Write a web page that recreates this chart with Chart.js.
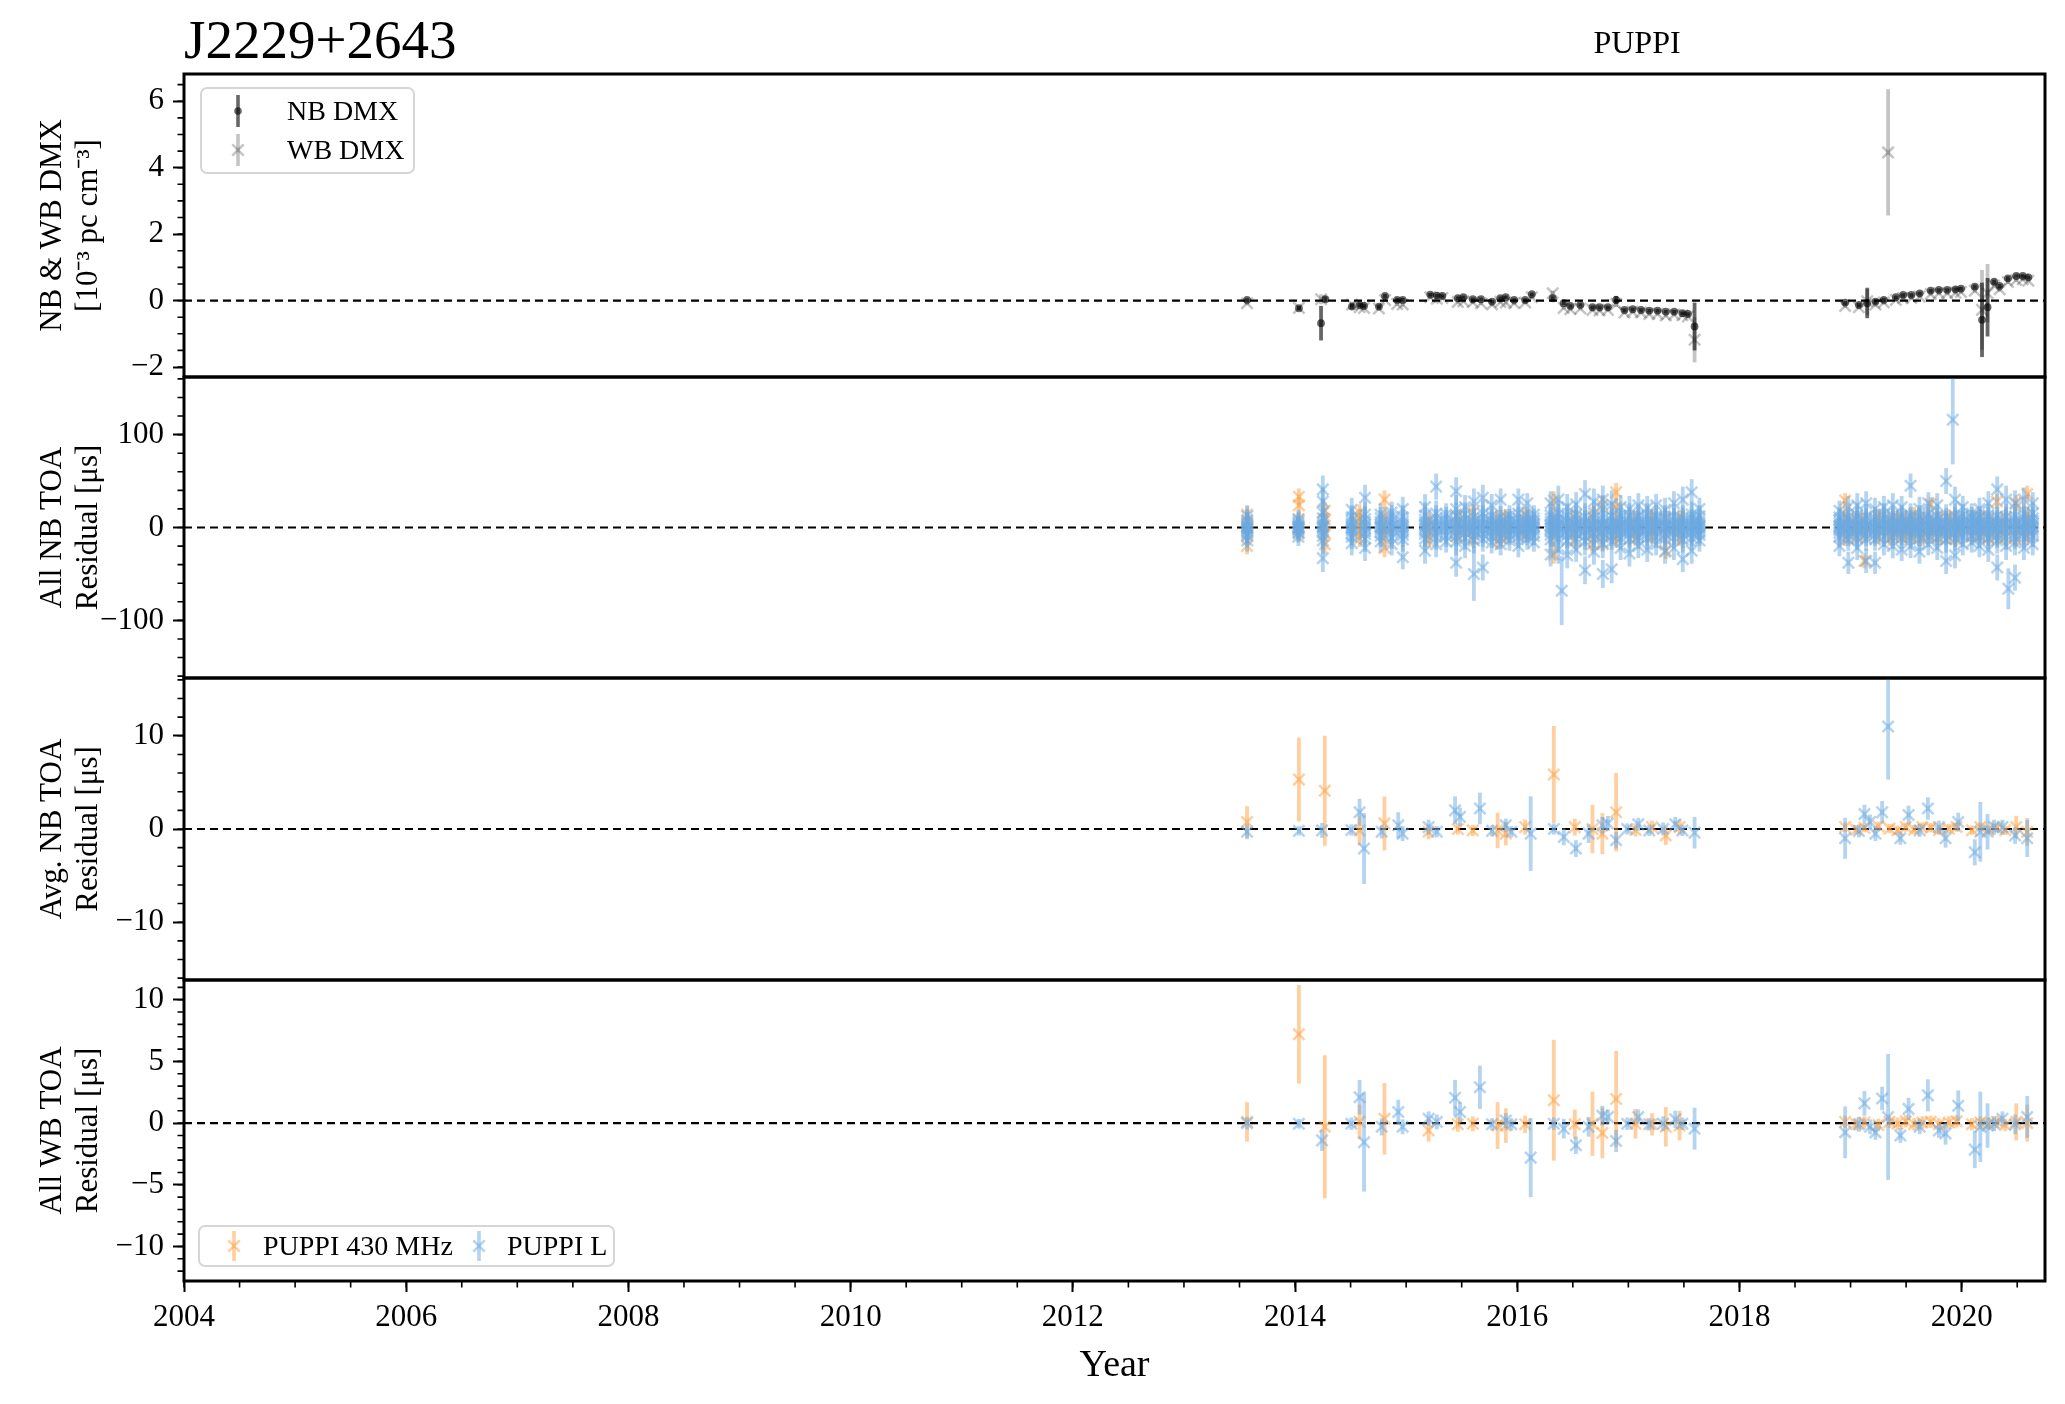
<!DOCTYPE html>
<html>
<head>
<meta charset="utf-8">
<script src="https://cdn.jsdelivr.net/npm/chart.js@4/dist/chart.umd.min.js"></script>
<style>
body{margin:0;background:#fff;width:2065px;height:1404px;position:relative;overflow:hidden;font-family:'Liberation Serif','Times New Roman',serif;color:#000;}
canvas{position:absolute;left:0;}
.lbl{position:absolute;line-height:1;white-space:nowrap;z-index:5;}
.leg{position:absolute;border:2px solid #d6d6d6;border-radius:7px;background:rgba(255,255,255,0.8);box-sizing:border-box;z-index:4;}
.glyph{position:absolute;z-index:5;}
</style>
</head>
<body>
<div class="lbl" style="left:184px;top:12px;font-size:55px">J2229+2643</div>
<div class="lbl" style="left:1637px;top:26px;font-size:32px;transform:translateX(-50%)">PUPPI</div>

<canvas id="dmx" width="2065" height="383" style="top:34px"></canvas>
<canvas id="nbAll" width="2065" height="381" style="top:337px"></canvas>
<canvas id="nbAvg" width="2065" height="382" style="top:638px"></canvas>
<canvas id="wbAll" width="2065" height="464" style="top:940px"></canvas>

<!-- legend, top panel -->
<div class="leg" style="left:200px;top:87px;width:215px;height:87px"></div>
<svg class="glyph" width="16" height="34" style="left:230px;top:94px"><line x1="8" y1="1" x2="8" y2="33" stroke="rgba(0,0,0,0.6)" stroke-width="3.6"/><circle cx="8" cy="17" r="3.8" fill="rgba(0,0,0,0.6)"/></svg>
<div class="lbl" style="left:287px;top:97px;font-size:28px">NB DMX</div>
<svg class="glyph" width="16" height="34" style="left:230px;top:133px"><line x1="8" y1="1" x2="8" y2="33" stroke="rgba(0,0,0,0.23)" stroke-width="3.6"/><path d="M2.3 11.3L13.7 22.7M13.7 11.3L2.3 22.7" stroke="rgba(0,0,0,0.23)" stroke-width="2.5" fill="none"/></svg>
<div class="lbl" style="left:287px;top:136px;font-size:28px">WB DMX</div>

<!-- legend, bottom panel -->
<div class="leg" style="left:198px;top:1225px;width:417px;height:42px"></div>
<svg class="glyph" width="16" height="34" style="left:226px;top:1229px"><line x1="8" y1="2" x2="8" y2="32" stroke="rgba(255,160,64,0.5)" stroke-width="3.6"/><path d="M2.3 11.3L13.7 22.7M13.7 11.3L2.3 22.7" stroke="rgba(255,160,64,0.5)" stroke-width="2.5" fill="none"/></svg>
<div class="lbl" style="left:263px;top:1232px;font-size:28px">PUPPI 430 MHz</div>
<svg class="glyph" width="16" height="34" style="left:471px;top:1229px"><line x1="8" y1="2" x2="8" y2="32" stroke="rgba(107,169,226,0.5)" stroke-width="3.6"/><path d="M2.3 11.3L13.7 22.7M13.7 11.3L2.3 22.7" stroke="rgba(107,169,226,0.5)" stroke-width="2.5" fill="none"/></svg>
<div class="lbl" style="left:507px;top:1232px;font-size:28px">PUPPI L</div>

<script>
// ---------- axes ----------
const xMin = 2004, xMax = 2020.75;
const yearTicks = [2004, 2006, 2008, 2010, 2012, 2014, 2016, 2018, 2020];

// ---------- panel 1 : DMX [1e-3 pc cm^-3] ----------
const nbDmxT = [2013.568, 2014.035, 2014.234, 2014.273, 2014.512, 2014.581, 2014.621, 2014.755, 2014.81, 2014.919, 2014.969,
  2015.217, 2015.276, 2015.326, 2015.465, 2015.515, 2015.6, 2015.674, 2015.773, 2015.848, 2015.897, 2015.972, 2016.071, 2016.131,
  2016.319, 2016.418, 2016.478, 2016.568, 2016.677, 2016.741, 2016.816, 2016.89, 2016.965, 2017.039, 2017.114, 2017.188, 2017.263,
  2017.337, 2017.412, 2017.486, 2017.536, 2017.596,
  2018.951, 2019.075, 2019.15, 2019.224, 2019.299, 2019.408, 2019.473, 2019.547, 2019.622, 2019.721, 2019.795, 2019.87, 2019.944,
  2019.994, 2020.118, 2020.183, 2020.233, 2020.292, 2020.342, 2020.416, 2020.491, 2020.55, 2020.6];
const nbDmxV = [0.02, -0.23, -0.68, 0.04, -0.18, -0.13, -0.16, -0.18, 0.14, 0.02, 0.02,
  0.18, 0.15, 0.14, 0.07, 0.1, 0.04, 0.04, -0.03, 0.07, 0.1, 0.02, 0.02, 0.19,
  0.07, -0.08, -0.16, -0.13, -0.2, -0.2, -0.2, 0.02, -0.28, -0.26, -0.28, -0.3, -0.3,
  -0.33, -0.33, -0.38, -0.4, -0.78,
  -0.06, -0.13, -0.08, -0.03, 0.02, 0.1, 0.17, 0.17, 0.22, 0.3, 0.32, 0.32, 0.34,
  0.36, 0.42, -0.58, -0.2, 0.57, 0.44, 0.67, 0.74, 0.74, 0.7];
const nbDmxE = [0.05, 0.06, 0.52, 0.08, 0.08, 0.06, 0.06, 0.06, 0.06, 0.06, 0.06,
  0.05, 0.05, 0.05, 0.05, 0.05, 0.05, 0.05, 0.05, 0.05, 0.05, 0.05, 0.05, 0.05,
  0.06, 0.05, 0.05, 0.05, 0.05, 0.05, 0.05, 0.12, 0.05, 0.05, 0.05, 0.05, 0.05,
  0.05, 0.05, 0.05, 0.05, 0.72,
  0.06, 0.06, 0.45, 0.06, 0.06, 0.05, 0.05, 0.05, 0.05, 0.05, 0.05, 0.05, 0.05,
  0.05, 0.06, 1.12, 0.88, 0.06, 0.06, 0.06, 0.05, 0.05, 0.05];

const wbDmxT = [2013.568, 2014.035, 2014.234, 2014.512, 2014.581, 2014.621, 2014.755, 2014.81, 2014.919, 2014.969,
  2015.217, 2015.276, 2015.326, 2015.465, 2015.515, 2015.6, 2015.674, 2015.773, 2015.848, 2015.897, 2015.972, 2016.071, 2016.131,
  2016.319, 2016.418, 2016.478, 2016.568, 2016.677, 2016.741, 2016.816, 2016.89, 2016.965, 2017.039, 2017.114, 2017.188, 2017.263,
  2017.337, 2017.412, 2017.486, 2017.536, 2017.596,
  2018.951, 2019.075, 2019.15, 2019.224, 2019.299, 2019.338, 2019.408, 2019.473, 2019.547, 2019.622, 2019.721, 2019.795, 2019.87,
  2019.944, 2019.994, 2020.118, 2020.183, 2020.233, 2020.292, 2020.342, 2020.416, 2020.491, 2020.55, 2020.6];
const wbDmxV = [-0.08, -0.22, 0.04, -0.12, -0.2, -0.22, -0.24, 0.02, -0.1, -0.12,
  0.1, 0.06, 0.08, -0.04, -0.02, -0.05, -0.08, -0.12, -0.04, -0.06, -0.08, -0.06, 0.1,
  0.22, -0.22, -0.26, -0.24, -0.28, -0.3, -0.28, -0.1, -0.36, -0.34, -0.36, -0.4, -0.4,
  -0.45, -0.42, -0.44, -0.48, -1.18,
  -0.16, -0.2, -0.02, -0.12, -0.06, 4.46, 0.02, 0.08, 0.08, 0.12, 0.2, 0.22, 0.22,
  0.24, 0.26, 0.3, -0.28, 0.22, 0.45, 0.34, 0.56, 0.62, 0.64, 0.6];
const wbDmxE = [0.06, 0.06, 0.15, 0.08, 0.06, 0.06, 0.06, 0.06, 0.06, 0.06,
  0.05, 0.05, 0.05, 0.05, 0.05, 0.05, 0.05, 0.05, 0.05, 0.05, 0.05, 0.05, 0.05,
  0.08, 0.05, 0.05, 0.05, 0.05, 0.05, 0.05, 0.1, 0.05, 0.05, 0.05, 0.05, 0.05,
  0.05, 0.05, 0.05, 0.05, 0.68,
  0.06, 0.06, 0.42, 0.06, 0.06, 1.9, 0.05, 0.05, 0.05, 0.05, 0.05, 0.05, 0.05,
  0.05, 0.05, 0.06, 1.2, 0.88, 0.06, 0.06, 0.06, 0.05, 0.05, 0.05];

// ---------- panel 2 : all narrowband TOA residuals [us] ----------
const nbLT = [2013.57, 2014.03, 2014.25, 2014.51, 2014.63, 2014.77, 2014.87, 2014.97, 2015.17, 2015.27, 2015.36,
  2015.45, 2015.53, 2015.61, 2015.69, 2015.77, 2015.85, 2015.93, 2016.01, 2016.09, 2016.15,
  2016.30, 2016.37, 2016.45, 2016.53, 2016.61, 2016.69, 2016.77, 2016.85, 2016.93, 2017.01, 2017.09, 2017.17, 2017.25,
  2017.33, 2017.41, 2017.49, 2017.57, 2017.64,
  2018.90, 2018.98, 2019.06, 2019.14, 2019.22, 2019.30, 2019.38, 2019.46, 2019.54, 2019.62, 2019.70, 2019.78, 2019.86,
  2019.94, 2020.01, 2020.09, 2020.16, 2020.24, 2020.32, 2020.40, 2020.48, 2020.56, 2020.64];
const nbLRes = [
  [-14, -9, -6, -4, -2, -1, 0, 1, 3, 5, 8, 12], [-10, -6, -4, -2, -1, 0, 1, 2, 4, 6, 9],
  [-33, -14, -9, -5, -2, 0, 1, 3, 6, 10, 16, 28, 41], [-17, -10, -6, -3, -1, 0, 2, 4, 7, 11, 19],
  [-22, -12, -7, -4, -1, 1, 3, 6, 9, 14, 32], [-15, -9, -5, -2, 0, 1, 3, 6, 10, 14],
  [-18, -11, -6, -3, -1, 1, 2, 5, 8, 12, 16], [-32, -13, -8, -5, -2, 0, 2, 4, 7, 11, 20],
  [-25, -12, -7, -4, -1, 1, 3, 5, 8, 13, 22], [-18, -10, -6, -3, -1, 1, 3, 6, 10, 15, 44],
  [-15, -9, -5, -2, 0, 2, 4, 7, 10, 14],
  [-38, -15, -9, -5, -2, 0, 2, 4, 7, 12, 20, 39], [-20, -11, -6, -3, -1, 1, 3, 6, 9, 14, 22],
  [-14, -8, -4, -2, 0, 2, 4, 7, 11, 28], [-43, -12, -7, -3, -1, 1, 3, 6, 10, 15, 32],
  [-16, -10, -6, -3, -1, 1, 2, 5, 8, 12, 24], [-18, -11, -6, -3, -1, 0, 2, 4, 7, 11, 30],
  [-14, -8, -5, -2, 0, 1, 3, 6, 9, 13], [-20, -10, -6, -3, -1, 1, 3, 6, 10, 15, 30],
  [-13, -8, -5, -2, 0, 1, 3, 5, 8, 12, 26], [-16, -9, -5, -2, 0, 2, 4, 7, 10, 14],
  [-29, -13, -8, -4, -1, 1, 3, 6, 9, 13, 26], [-24, -12, -7, -3, 0, 2, 4, 7, 10, 15, 30],
  [-30, -14, -8, -5, -2, 0, 2, 5, 8, 12, 22], [-24, -12, -7, -3, -1, 1, 3, 6, 9, 14, 25],
  [-46, -15, -9, -5, -2, 0, 2, 4, 7, 11, 36], [-26, -12, -7, -4, -1, 1, 3, 6, 10, 15, 28],
  [-50, -18, -10, -6, -3, -1, 1, 3, 6, 10, 20, 30], [-45, -15, -9, -5, -2, 0, 2, 4, 7, 12, 25],
  [-22, -11, -6, -3, -1, 1, 3, 6, 9, 13, 22], [-28, -12, -7, -4, -1, 1, 2, 5, 8, 12, 20],
  [-20, -10, -6, -3, -1, 1, 3, 5, 8, 12, 24], [-24, -11, -7, -3, -1, 1, 3, 6, 9, 13, 21],
  [-18, -10, -6, -2, 0, 2, 4, 6, 9, 12, 24], [-26, -12, -7, -4, -1, 1, 2, 5, 8, 11, 19],
  [-22, -10, -6, -3, -1, 1, 3, 5, 8, 12, 26], [-34, -13, -8, -5, -2, 0, 2, 4, 7, 10, 30],
  [-25, -11, -6, -3, -1, 1, 3, 6, 10, 14, 38], [-14, -8, -5, -2, 0, 1, 3, 5, 8, 12, 20],
  [-20, -10, -6, -3, -1, 1, 2, 5, 8, 11, 18], [-38, -13, -8, -5, -2, 0, 2, 4, 7, 10, 22],
  [-22, -11, -7, -3, -1, 1, 3, 6, 9, 13, 24], [-36, -12, -7, -4, -1, 1, 3, 5, 8, 12, 26],
  [-38, -13, -8, -5, -2, -1, 1, 4, 7, 10, 20], [-18, -9, -5, -2, 0, 2, 4, 7, 10, 14, 22],
  [-20, -10, -6, -3, -1, 1, 3, 5, 8, 11, 24], [-24, -11, -7, -3, -1, 1, 3, 6, 9, 12, 22],
  [-20, -10, -6, -2, 0, 2, 4, 6, 9, 13, 45], [-26, -12, -7, -4, -1, 0, 2, 5, 8, 11, 20],
  [-18, -9, -5, -2, 0, 2, 4, 7, 10, 14, 26], [-22, -11, -6, -3, -1, 1, 3, 5, 8, 12, 24],
  [-36, -13, -8, -5, -2, 0, 2, 4, 7, 11, 50], [-30, -12, -7, -4, -1, 0, 2, 5, 8, 12, 30],
  [-18, -9, -5, -2, 0, 2, 4, 6, 9, 13, 22], [-16, -8, -4, -1, 1, 3, 5, 8, 11, 15],
  [-20, -10, -6, -3, -1, 1, 3, 5, 8, 11, 20], [-24, -11, -7, -3, -1, 1, 3, 6, 9, 13, 26],
  [-43, -14, -8, -6, -2, 0, 2, 5, 8, 12, 41], [-20, -9, -5, -1, 1, 4, 7, 11, 30],
  [-54, -16, -9, -6, -2, 0, 2, 5, 8, 12, 26], [-22, -10, -6, -3, -1, 1, 3, 6, 10, 14, 30],
  [-18, -9, -5, -2, 0, 2, 4, 7, 10, 15, 26]];
const nbLErr = [12, 10, 15, 13, 14, 12, 12, 13, 14, 14, 12,
  15, 13, 14, 14, 12, 12, 11, 12, 11, 10,
  13, 15, 14, 13, 15, 14, 15, 15, 13, 14, 13, 13, 12,
  13, 13, 14, 14, 12,
  11, 12, 13, 13, 12, 12, 13, 12, 13, 13, 12, 13, 14,
  14, 12, 11, 12, 13, 14, 15, 14, 13, 12];
// single TOAs far from the rest
const nbLOutT = [2015.61, 2016.40, 2019.92, 2020.42];
const nbLOutV = [-50, -68, 116, -66];
const nbLOutE = [29, 37, 48, 22];

const nb430T = [2013.568, 2014.035, 2014.268, 2014.581, 2014.805, 2015.202, 2015.465, 2015.6, 2015.823, 2015.897,
  2016.071, 2016.329, 2016.518, 2016.677, 2016.766, 2016.89, 2017.064, 2017.213, 2017.337, 2017.461,
  2018.951, 2019.05, 2019.125, 2019.25, 2019.35, 2019.423, 2019.497, 2019.572, 2019.646, 2019.721,
  2019.795, 2019.885, 2019.954, 2020.093, 2020.168, 2020.242, 2020.317, 2020.392, 2020.491, 2020.59];
const nb430Res = [
  [-20, -8, 0, 7, 14], [-6, 0, 8, 24, 33], [-18, -6, 2, 9, 18], [-12, -4, 3, 10, 16], [-22, -8, 0, 12, 30],
  [-14, -5, 2, 8], [-10, -3, 4, 12], [-12, -4, 3, 16], [-15, -6, 2, 10], [-10, -2, 5, 12],
  [-8, -1, 6, 14], [-29, -10, 0, 10, 29], [-14, -5, 3, 11], [-18, -6, 2, 12], [-16, -5, 3, 24],
  [-12, -3, 6, 22, 38], [-12, -4, 3, 10], [-10, -3, 4, 12], [-25, -8, 0, 9], [-12, -4, 3, 11],
  [-12, -3, 4, 14, 29], [-10, -3, 3, 10], [-36, -8, 0, 8], [-10, -2, 4, 12], [-12, -4, 3, 9],
  [-9, -2, 5, 11], [-11, -3, 2, 10], [-10, -2, 4, 14], [-12, -4, 2, 9], [-9, -1, 5, 25],
  [-11, -3, 3, 10], [-10, -2, 4, 12], [-12, -4, 2, 9], [-10, -3, 4, 11], [-9, -2, 5, 12],
  [-12, -4, 3, 10], [-10, -2, 4, 28], [-11, -3, 3, 11], [-12, -3, 4, 26], [-10, -2, 5, 14, 36]];
const nb430Err = [9, 9, 10, 9, 10, 8, 8, 9, 9, 8,
  8, 10, 9, 10, 10, 10, 8, 8, 9, 8,
  8, 8, 8, 8, 8, 8, 8, 8, 8, 8,
  8, 8, 8, 8, 8, 8, 8, 8, 9, 9];

// ---------- panels 3 & 4 : epoch-averaged NB and WB residuals [us] ----------
const epLT = [2013.568, 2014.035, 2014.243, 2014.507, 2014.581, 2014.621, 2014.78, 2014.929, 2014.968, 2015.202,
  2015.276, 2015.44, 2015.485, 2015.664, 2015.773, 2015.897, 2015.947, 2016.121, 2016.329, 2016.419,
  2016.528, 2016.642, 2016.766, 2016.816, 2016.89, 2016.99, 2017.089, 2017.188, 2017.313, 2017.422,
  2017.486, 2017.596, 2018.951, 2019.075, 2019.125, 2019.175, 2019.224, 2019.284, 2019.338, 2019.448,
  2019.522, 2019.622, 2019.696, 2019.795, 2019.855, 2019.969, 2020.118, 2020.168, 2020.233, 2020.292,
  2020.367, 2020.481, 2020.59];
const avgLV = [-0.3, -0.2, -0.15, -0.1, 1.8, -2.1, -0.3, 0.4, -0.5, 0.2,
  -0.3, 2.0, 1.3, 2.2, -0.2, 0.4, -0.3, -0.5, 0.0, -0.85,
  -2.1, -0.5, 0.4, 0.6, -1.2, 0.0, 0.5, -0.15, 0.0, 0.5,
  -0.15, -0.4, -1.0, -0.2, 1.6, 0.75, -0.5, 1.8, 11.0, -1.0,
  1.5, -0.15, 2.2, 0.2, -1.0, 0.75, -2.5, -0.3, -0.3, 0.2,
  0.2, -0.7, -1.0];
const avgLE = [0.8, 0.5, 0.8, 0.6, 1.45, 3.8, 0.7, 1.4, 0.8, 0.8,
  0.6, 1.5, 1.0, 1.7, 0.6, 0.7, 0.6, 4.0, 0.6, 0.9,
  0.9, 1.0, 0.9, 0.8, 0.9, 0.6, 0.7, 0.6, 0.7, 0.8,
  0.6, 1.7, 2.2, 0.7, 1.0, 0.8, 0.8, 1.2, 5.7, 0.7,
  1.0, 0.7, 1.2, 0.7, 1.0, 1.0, 1.4, 3.2, 1.9, 0.8,
  0.8, 0.9, 2.0];
const wbLV = [0.0, -0.05, -1.4, -0.05, 2.1, -1.55, -0.3, 0.9, -0.3, 0.35,
  0.1, 2.05, 0.9, 2.9, -0.1, 0.2, -0.1, -2.8, -0.05, -0.45,
  -1.8, -0.3, 0.6, 0.5, -1.45, -0.05, 0.5, -0.1, -0.05, 0.3,
  -0.05, -0.45, -0.75, -0.1, 1.6, -0.3, -0.75, 2.0, 0.5, -1.0,
  1.15, -0.3, 2.25, -0.6, -0.85, 1.4, -2.15, -0.3, -0.2, -0.05,
  0.35, -0.1, 0.5];
const wbLE = [0.5, 0.4, 0.85, 0.5, 1.4, 4.0, 0.7, 1.0, 0.6, 0.6,
  0.6, 1.45, 0.8, 1.75, 0.5, 0.6, 0.5, 3.2, 0.5, 0.8,
  0.7, 0.8, 0.8, 0.6, 0.9, 0.5, 0.6, 0.5, 0.6, 0.7,
  0.5, 1.7, 2.1, 0.6, 1.0, 0.6, 0.6, 0.95, 5.1, 0.6,
  0.9, 0.6, 1.3, 0.6, 0.9, 1.25, 1.5, 2.85, 1.8, 0.6,
  0.6, 0.8, 1.7];

const ep430T = nb430T;
const avg430V = [0.75, 5.3, 4.1, -0.15, 0.6, -0.3, 0.0, -0.15, -0.15, -0.5,
  0.2, 5.85, 0.2, 0.0, -0.5, 1.8, -0.1, 0.2, -0.7, 0.2,
  0.2, -0.07, 0.14, 0.29, 0.04, -0.14, 0.21, -0.07, 0.21, 0.14,
  -0.14, 0.04, 0.21, -0.14, 0.21, -0.07, 0.14, -0.14, 0.21, -0.32];
const avg430E = [1.7, 4.5, 5.9, 1.6, 2.9, 0.8, 0.6, 0.6, 1.9, 1.25,
  0.8, 5.2, 0.9, 2.6, 2.2, 4.2, 0.7, 0.7, 1.0, 0.8,
  0.5, 0.5, 0.5, 0.5, 0.5, 0.5, 0.5, 0.5, 0.5, 0.5,
  0.5, 0.5, 0.5, 0.5, 0.5, 0.5, 0.5, 0.5, 1.2, 1.5];
const wb430V = [0.1, 7.2, -0.3, 0.1, 0.35, -0.6, -0.1, -0.05, -0.2, -0.2,
  -0.1, 1.85, -0.1, -0.05, -0.8, 1.95, -0.05, -0.1, -0.3, -0.2,
  0.1, -0.1, 0.05, -0.15, 0.1, -0.05, 0.15, -0.1, 0.05, 0.1,
  -0.1, 0.05, 0.15, -0.1, 0.05, -0.05, 0.1, -0.15, 0.1, 0.0];
const wb430E = [1.6, 4.0, 5.8, 1.4, 2.9, 0.9, 0.6, 0.6, 1.9, 1.4,
  0.7, 4.9, 1.2, 2.6, 2.05, 3.9, 1.2, 0.9, 1.6, 1.2,
  0.5, 0.5, 0.5, 0.5, 0.5, 0.5, 0.5, 0.5, 0.5, 0.5,
  0.5, 0.5, 0.5, 0.5, 0.5, 0.5, 0.5, 0.5, 1.5, 1.5];

// ---------- styles ----------
const colL = 'rgba(107,169,226,0.5)';
const col430 = 'rgba(255,160,64,0.5)';
const colNB = 'rgba(0,0,0,0.6)';
const colWB = 'rgba(0,0,0,0.23)';
const serif = "'Liberation Serif','Times New Roman',serif";

Chart.defaults.font.family = serif;
Chart.defaults.color = '#000';

function minorList(lo, hi, step) {
  const out = [];
  for (let v = Math.ceil(lo / step) * step; v <= hi + 1e-9; v += step) out.push(+v.toFixed(4));
  return out;
}
const yearMinor = minorList(xMin, xMax, 0.5);

// flatten per-epoch residual lists into single points
function expand(ts, lists, errs) {
  const t = [], v = [], e = [];
  ts.forEach((ti, i) => lists[i].forEach(r => { t.push(ti); v.push(r); e.push(errs[i]); }));
  return [t, v, e];
}

function errSet(ts, vs, es, color, order) {
  return {
    type: 'bar',
    data: ts.map((t, i) => ({x: t, y: [vs[i] - es[i], vs[i] + es[i]]})),
    backgroundColor: color, borderWidth: 0, barThickness: 3.8, grouped: false, inflateAmount: 0, order: order
  };
}
function markSet(ts, vs, color, style, r, order) {
  return {
    type: 'scatter',
    data: ts.map((t, i) => ({x: t, y: vs[i]})),
    pointStyle: style, pointRadius: r, pointBorderWidth: style === 'circle' ? 0 : 2.5,
    pointBorderColor: color, pointBackgroundColor: color, order: order
  };
}
function zeroLine() {
  return {type: 'line', data: [{x: xMin, y: 0}, {x: xMax, y: 0}], borderColor: '#000', borderWidth: 2.2,
    borderDash: [8, 5], pointRadius: 0, order: 20};
}

// box around the panel + minor tick marks
const frameMinor = {
  id: 'frameMinor',
  afterDraw(chart, args, o) {
    const ctx = chart.ctx, a = chart.chartArea;
    const ys = chart.scales.y, xs = chart.scales.x;
    ctx.save();
    ctx.strokeStyle = '#000';
    ctx.lineWidth = 1.6;
    ctx.beginPath();
    o.yMinor.forEach(v => {
      if (v < ys.min || v > ys.max) return;
      const p = ys.getPixelForValue(v);
      ctx.moveTo(a.left, p); ctx.lineTo(a.left - 6.5, p);
    });
    if (o.xMinor) o.xMinor.forEach(v => {
      const p = xs.getPixelForValue(v);
      ctx.moveTo(p, a.bottom); ctx.lineTo(p, a.bottom + 6.5);
    });
    ctx.stroke();
    ctx.lineWidth = 3;
    ctx.strokeRect(a.left, a.top, a.right - a.left, a.bottom - a.top);
    ctx.restore();
  }
};

function fmt(v) { return v < 0 ? '\u2212' + Math.abs(v) : String(v); }

function makePanel(id, o) {
  const xAxis = {
    type: 'linear', min: xMin, max: xMax, display: !!o.bottomAxis,
    offset: false,
    afterBuildTicks: s => { s.ticks = yearTicks.map(v => ({value: v})); },
    border: {display: false},
    grid: {offset: false, drawOnChartArea: false, drawTicks: true, tickLength: 11, tickWidth: 2, tickColor: '#000'},
    ticks: {font: {size: 31}, color: '#000', padding: 7, maxRotation: 0, autoSkip: false, callback: v => String(v)},
    title: {display: true, text: 'Year', font: {size: 38}, color: '#000', padding: {top: 0, bottom: 15}}
  };
  if (o.bottomAxis) xAxis.afterFit = s => { s.height = 123; };
  return new Chart(document.getElementById(id), {
    type: 'scatter',
    data: {datasets: o.datasets},
    options: {
      animation: false, responsive: false, devicePixelRatio: 1, events: [],
      layout: {padding: {left: 0, right: 20, top: 40, bottom: o.bottomAxis ? 0 : 40}},
      plugins: {
        legend: {display: false}, tooltip: {enabled: false},
        frameMinor: {yMinor: o.yMinor, xMinor: o.bottomAxis ? yearMinor : null}
      },
      scales: {
        x: xAxis,
        y: {
          type: 'linear', min: o.yMin, max: o.yMax, offset: false,
          afterBuildTicks: s => { s.ticks = o.yTicks.map(v => ({value: v})); },
          afterFit: s => { s.width = 184; },
          border: {display: false},
          grid: {offset: false, drawOnChartArea: false, drawTicks: true, tickLength: 11, tickWidth: 2, tickColor: '#000'},
          ticks: {font: {size: 31}, color: '#000', padding: 9, autoSkip: false, callback: fmt},
          title: {display: true, text: o.yTitle, font: {size: 31, lineHeight: 1.15}, color: '#000', padding: {top: 35, bottom: 0}}
        }
      }
    },
    plugins: [frameMinor]
  });
}

// ---------- build ----------
makePanel('dmx', {
  yMin: -2.3, yMax: 6.82, yTicks: [-2, 0, 2, 4, 6], yMinor: minorList(-2.3, 6.82, 0.5),
  yTitle: ['NB & WB DMX', '[10\u207B\u00B3 pc cm\u207B\u00B3]'],
  datasets: [
    markSet(nbDmxT, nbDmxV, colNB, 'circle', 3.9, 1),
    errSet(nbDmxT, nbDmxV, nbDmxE, colNB, 2),
    markSet(wbDmxT, wbDmxV, colWB, 'crossRot', 8, 3),
    errSet(wbDmxT, wbDmxV, wbDmxE, colWB, 4),
    zeroLine()
  ]
});

const [aLT, aLV, aLE] = expand(nbLT, nbLRes, nbLErr);
const [a4T, a4V, a4E] = expand(nb430T, nb430Res, nb430Err);
makePanel('nbAll', {
  yMin: -162, yMax: 162, yTicks: [-100, 0, 100], yMinor: minorList(-162, 162, 20),
  yTitle: ['All NB TOA', 'Residual [\u03BCs]'],
  datasets: [
    markSet(nbLOutT, nbLOutV, colL, 'crossRot', 8, 1),
    errSet(nbLOutT, nbLOutV, nbLOutE, colL, 2),
    markSet(aLT, aLV, colL, 'crossRot', 8, 3),
    errSet(aLT, aLV, aLE, colL, 4),
    markSet(a4T, a4V, col430, 'crossRot', 8, 5),
    errSet(a4T, a4V, a4E, col430, 6),
    zeroLine()
  ]
});

makePanel('nbAvg', {
  yMin: -16.2, yMax: 16.2, yTicks: [-10, 0, 10], yMinor: minorList(-16.2, 16.2, 2),
  yTitle: ['Avg. NB TOA', 'Residual [\u03BCs]'],
  datasets: [
    markSet(epLT, avgLV, colL, 'crossRot', 8, 1),
    errSet(epLT, avgLV, avgLE, colL, 2),
    markSet(ep430T, avg430V, col430, 'crossRot', 8, 3),
    errSet(ep430T, avg430V, avg430E, col430, 4),
    zeroLine()
  ]
});

makePanel('wbAll', {
  bottomAxis: true,
  yMin: -12.8, yMax: 11.6, yTicks: [-10, -5, 0, 5, 10], yMinor: minorList(-12.8, 11.6, 1),
  yTitle: ['All WB TOA', 'Residual [\u03BCs]'],
  datasets: [
    markSet(epLT, wbLV, colL, 'crossRot', 8, 1),
    errSet(epLT, wbLV, wbLE, colL, 2),
    markSet(ep430T, wb430V, col430, 'crossRot', 8, 3),
    errSet(ep430T, wb430V, wb430E, col430, 4),
    zeroLine()
  ]
});
</script>
</body>
</html>
